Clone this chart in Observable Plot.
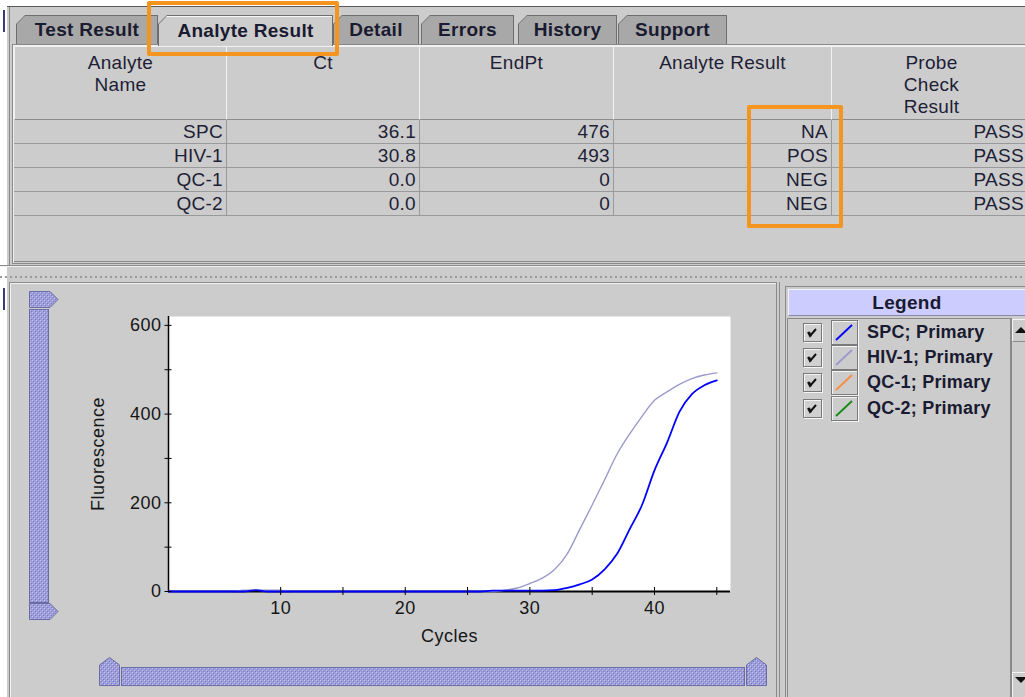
<!DOCTYPE html>
<html><head><meta charset="utf-8">
<script src="https://cdn.jsdelivr.net/npm/d3@7"></script>
<script src="https://cdn.jsdelivr.net/npm/@observablehq/plot@0.6"></script>
<style>
body{margin:0;width:1025px;height:697px;overflow:hidden;background:#cccccc;font-family:"Liberation Sans",Arial,sans-serif;color:#1e1e36;position:relative}
.abs{position:absolute;box-sizing:border-box}
.tab{position:absolute;clip-path:polygon(0 100%,0 9px,9px 0,100% 0,100% 100%);background:#6e6e6e}
.tab .in{position:absolute;left:1px;top:1px;right:1px;bottom:0;clip-path:polygon(0 100%,0 8px,8px 0,100% 0,100% 100%);background:#a8a8a8;font-weight:bold;font-size:19px;letter-spacing:.3px;text-align:center;line-height:28px;color:#1a1a30}
.tab.active .in{background:#cdcdcd;border-top:1px solid #f4f4f4;line-height:27px}
.hcell{position:absolute;box-sizing:border-box;top:46px;height:74px;border-left:1px solid #f2f2f2;border-top:1px solid #f2f2f2;border-right:1px solid #8c8c8c;border-bottom:1px solid #8c8c8c;font-size:19px;letter-spacing:.3px;text-align:center;line-height:22px;padding-top:5px;overflow:hidden;white-space:nowrap}
.dcell{position:absolute;box-sizing:border-box;height:24px;border-right:1px solid #9a9a9a;border-bottom:1px solid #9a9a9a;font-size:19px;letter-spacing:.3px;text-align:right;line-height:24px;padding-right:3px;white-space:nowrap}
.orange{position:absolute;box-sizing:border-box;border:4px solid #f5951f;border-radius:2px}
#chart svg text{letter-spacing:.5px}
.leg{position:absolute;font-weight:bold;font-size:18px;letter-spacing:.2px;line-height:24px;color:#1a1a30;white-space:nowrap}
</style></head><body>
<div id="ui"></div>
<div id="chart" class="abs" style="left:80px;top:300px"></div>
<script>
// ---------- data ----------
const tabNames = ["Test Result", "Analyte Result", "Detail", "Errors", "History", "Support"];
const activeTab = "Analyte Result";
const headerLabels = [["Analyte", "Name"], ["Ct"], ["EndPt"], ["Analyte Result"], ["Probe", "Check", "Result"]];
const analyteNames = ["SPC", "HIV-1", "QC-1", "QC-2"];
const ctValues = ["36.1", "30.8", "0.0", "0.0"];
const endPoints = ["476", "493", "0", "0"];
const analyteResults = ["NA", "POS", "NEG", "NEG"];
const probeCheck = ["PASS", "PASS", "PASS", "PASS"];
const legendLabels = ["SPC; Primary", "HIV-1; Primary", "QC-1; Primary", "QC-2; Primary"];

const cycles = [1,2,3,4,5,6,7,8,9,10,11,12,13,14,15,16,17,18,19,20,21,22,23,24,25,26,27,28,29,30,31,32,33,34,35,36,37,38,39,40,41,42,43,44,45];
const spcFluor  = [0,0,0,0,0,0,0,3,0,0, 0,0,0,0,0,0,0,0,0,0, 0,0,0,0,0,0,2,2,2,2, 2,3,8,16,27,50,85,140,195,273, 335,405,445,465,476];
const hiv1Fluor = [0,0,0,0,0,0,3,3,3,3, 0,0,0,0,0,0,0,0,0,0, 0,0,0,0,0,0,0,3,8,18, 30,50,85,140,195,252,310,355,395,431, 450,467,480,488,493];
const qc1Fluor  = [0,0,0,0,0,0,0,0,0,0, 0,0,0,0,0,0,0,0,0,0, 0,0,0,0,0,0,0,0,0,0, 0,0,0,0,0,0,0,0,0,0, 0,0,0,0,0];
const qc2Fluor  = [0,0,0,0,0,0,0,0,0,0, 0,0,0,0,0,0,0,0,0,0, 0,0,0,0,0,0,0,0,0,0, 0,0,0,0,0,0,0,0,0,0, 0,0,0,0,0];

const xTickLabels = [10, 20, 30, 40];
const xTickMarks = [10, 15, 20, 25, 30, 35, 40, 45];
const yTickLabels = [0, 200, 400, 600];
const yTickMarks = [0, 100, 200, 300, 400, 500, 600];
const xTitle = "Cycles";
const yTitle = "Fluorescence";

// ---------- styles / layout ----------
const seriesColors = ["#0000ff", "#9a9acc", "#ff8a3d", "#138a13"];
const tabPos = [[16,142],[158,175],[333,86],[421,93],[518,99],[618,109]];
const colPos = [[14,212],[226,193],[419,194],[613,218],[831,200]];
const rowTop = [120,144,168,192];

const ui = document.getElementById("ui");
let h = "";
// window chrome
h += `<div class="abs" style="left:0;top:0;width:1025px;height:6px;background:#fff"></div>`;
h += `<div class="abs" style="left:0;top:0;width:7px;height:697px;background:#fff"></div>`;
h += `<div class="abs" style="left:7px;top:6px;width:1018px;height:1px;background:#5a5a5a"></div>`;
h += `<div class="abs" style="left:9px;top:7px;width:1px;height:258px;background:#8a8a8a"></div>`;
h += `<div class="abs" style="left:3px;top:10px;width:2px;height:22px;background:#3a3a7a"></div>`;
h += `<div class="abs" style="left:3px;top:288px;width:2px;height:22px;background:#3a3a7a"></div>`;
// table frame
h += `<div class="abs" style="left:12px;top:44px;width:1020px;height:220px;border:1px solid #8a8a8a;border-right:none;background:#cccccc"></div>`;
h += `<div class="abs" style="left:13px;top:45px;width:1020px;height:218px;border-top:1px solid #f0f0f0;border-left:1px solid #f0f0f0"></div>`;
h += `<div class="abs" style="left:14px;top:261px;width:1011px;height:1px;background:#8a8a8a"></div>`;
// tabs
tabNames.forEach((t, i) => {
  const [x, w] = tabPos[i];
  const act = t === activeTab;
  h += `<div class="tab${act ? " active" : ""}" style="left:${x}px;top:15px;width:${w}px;height:${act ? 32 : 29}px"><div class="in">${t}</div></div>`;
});
// header cells
headerLabels.forEach((lines, i) => {
  const [x, w] = colPos[i];
  h += `<div class="hcell" style="left:${x}px;width:${w + 1}px">${lines.join("<br>")}</div>`;
});
// data rows
const columns = [analyteNames, ctValues, endPoints, analyteResults, probeCheck];
rowTop.forEach((y, r) => {
  columns.forEach((col, c) => {
    const [x, w] = colPos[c];
    const extra = c === 4 ? "padding-right:1px;border-right:none;width:" + (1025 - x) + "px;" : "width:" + (w + 1) + "px;";
    h += `<div class="dcell" style="left:${x}px;top:${y}px;${extra}">${col[r]}</div>`;
  });
});
// splitter
h += `<div class="abs" style="left:0;top:265px;width:1025px;height:1px;background:#8a8a8a"></div>`;
h += `<div class="abs" style="left:0;top:266px;width:1025px;height:1px;background:#f0f0f0"></div>`;
h += `<div class="abs" style="left:0;top:276px;width:1025px;height:2px;background-image:repeating-linear-gradient(90deg,#9a9a9a 0 2px,transparent 2px 5px)"></div>`;
// lower-left panel
h += `<div class="abs" style="left:9px;top:282px;width:768px;height:420px;border:1px solid #8a8a8a"></div>`;
h += `<div class="abs" style="left:10px;top:283px;width:766px;height:420px;border-left:1px solid #f0f0f0;border-top:1px solid #f0f0f0"></div>`;
h += `<div class="abs" style="left:779px;top:282px;width:1px;height:420px;background:#8a8a8a"></div>`;
// legend panel
h += `<div class="abs" style="left:785px;top:286px;width:245px;height:420px;border:1px solid #8a8a8a"></div>`;
h += `<div class="abs" style="left:788px;top:289px;width:240px;height:27px;background:#ccccff;border-top:1px solid #f4f4ff;border-left:1px solid #f4f4ff;border-bottom:1px solid #8a8aa8;font-weight:bold;font-size:19px;letter-spacing:.3px;line-height:25px;text-align:center;color:#1a1a30;padding-right:3px">Legend</div>`;
h += `<div class="abs" style="left:787px;top:318px;width:224px;height:380px;border-left:1px solid #8a8a8a;border-top:1px solid #8a8a8a;border-right:1px solid #8a8a8a"></div>`;
// legend scrollbar
h += `<div class="abs" style="left:1011px;top:318px;width:20px;height:380px;background:#cccccc;border-left:1px solid #8a8a8a"></div>`;
h += `<div class="abs" style="left:1012px;top:319px;width:20px;height:23px;border-top:1px solid #f4f4f4;border-left:1px solid #f4f4f4;border-bottom:1px solid #8a8a8a"></div>`;
h += `<div class="abs" style="left:1012px;top:672px;width:20px;height:26px;border-top:1px solid #f4f4f4;border-left:1px solid #f4f4f4"></div>`;
h += `<svg class="abs" style="left:1012px;top:319px" width="13" height="380"><path d="M3,14 L9,8 L15,14 Z" fill="#111"/><path d="M3,358 L9,364 L15,358 Z" fill="#111"/></svg>`;
legendLabels.forEach((lab, i) => {
  const cy = 332 + i * 25.2;
  h += `<div class="abs" style="left:803px;top:${cy - 9}px;width:19px;height:19px;border:1px solid #7a7a7a;box-shadow:inset 1px 1px 0 #f4f4f4, 1px 1px 0 #f4f4f4;background:#d0d0d0"></div>`;
  h += `<svg class="abs" style="left:803px;top:${cy - 9}px" width="19" height="19"><path d="M5,9 L7,13 L13,6 M6,9 L8,13.5" stroke="#111" stroke-width="2" fill="none"/></svg>`;
  h += `<div class="abs" style="left:831px;top:${cy - 12}px;width:27px;height:25px;border:1px solid #7a7a7a;box-shadow:inset 1px 1px 0 #f4f4f4, 1px 1px 0 #f4f4f4"></div>`;
  h += `<svg class="abs" style="left:831px;top:${cy - 12}px" width="27" height="25"><line x1="5" y1="20" x2="21" y2="5" stroke="${seriesColors[i]}" stroke-width="1.8"/></svg>`;
  h += `<div class="leg" style="left:867px;top:${cy - 12}px">${lab}</div>`;
});
// sliders
h += `<svg class="abs" style="left:0;top:0" width="1025" height="697">
<defs><pattern id="dots" width="4" height="4" patternUnits="userSpaceOnUse">
<rect width="4" height="4" fill="#9d9dd9"/><rect x="0" y="0" width="1" height="1" fill="#c6c6f0"/><rect x="1" y="1" width="1" height="1" fill="#7878bc"/><rect x="2" y="2" width="1" height="1" fill="#c6c6f0"/><rect x="3" y="3" width="1" height="1" fill="#7878bc"/></pattern></defs>
<g fill="url(#dots)" stroke="#6a6aa4" stroke-width="1">
<polygon points="29.5,291.5 50,291.5 58,299.5 50,307.5 29.5,307.5"/>
<rect x="29.5" y="309.5" width="19" height="293"/>
<polygon points="29.5,603.5 50,603.5 58,611.5 50,619.5 29.5,619.5"/>
<polygon points="99.5,685.5 99.5,665 109.5,657.5 119.5,665 119.5,685.5"/>
<rect x="121.5" y="667.5" width="623" height="18"/>
<polygon points="746.5,685.5 746.5,665 756.5,657.5 766.5,665 766.5,685.5"/>
</g></svg>`;
// orange highlight boxes
h += `<div class="orange" style="left:147px;top:1px;width:192px;height:55px"></div>`;
h += `<div class="orange" style="left:747px;top:105px;width:96px;height:123px"></div>`;
ui.innerHTML = h;

// ---------- chart ----------
const seriesValues = [spcFluor, hiv1Fluor, qc1Fluor, qc2Fluor];
const lineWidths = [1.8, 1.4, 1, 1];
const makeLine = k =>
  Plot.line(cycles.map((c, i) => ({cycle: c, value: seriesValues[k][i]})),
    {x: "cycle", y: "value", stroke: seriesColors[k], strokeWidth: lineWidths[k], curve: "monotone-x"});

const chart = Plot.plot({
  width: 660, height: 350,
  marginLeft: 88, marginRight: 10, marginTop: 16, marginBottom: 59,
  x: {domain: [1, 46.1]},
  y: {domain: [0, 620]},
  style: {background: "transparent", fontFamily: "Liberation Sans, Arial, sans-serif", fontSize: "18px", color: "#161616", overflow: "visible"},
  marks: [
    Plot.frame({fill: "white", stroke: "none"}),
    makeLine(2),
    makeLine(3),
    Plot.ruleY([0], {stroke: "#000", strokeWidth: 1.8}),
    Plot.ruleX([1], {stroke: "#000", strokeWidth: 1.5}),
    makeLine(1),
    makeLine(0),
    Plot.axisX(xTickMarks, {tickSize: 8, dy: -4, fill: "none", label: null, stroke: "#000"}),
    Plot.axisX(xTickLabels, {tickSize: 0, tickPadding: 10, label: null, fontSize: 18}),
    Plot.axisY(yTickMarks, {tickSize: 7, dx: 3.5, fill: "none", label: null, stroke: "#000"}),
    Plot.axisY(yTickLabels, {tickSize: 0, tickPadding: 7, label: null, fontSize: 18}),
    Plot.text([yTitle], {text: d => d, frameAnchor: "left", dx: -70, rotate: -90, textAnchor: "middle", lineAnchor: "middle", fontSize: 18}),
    Plot.text([xTitle], {text: d => d, frameAnchor: "bottom", dy: 45, textAnchor: "middle", lineAnchor: "middle", fontSize: 18})
  ]
});
document.getElementById("chart").appendChild(chart);
</script>
</body></html>
